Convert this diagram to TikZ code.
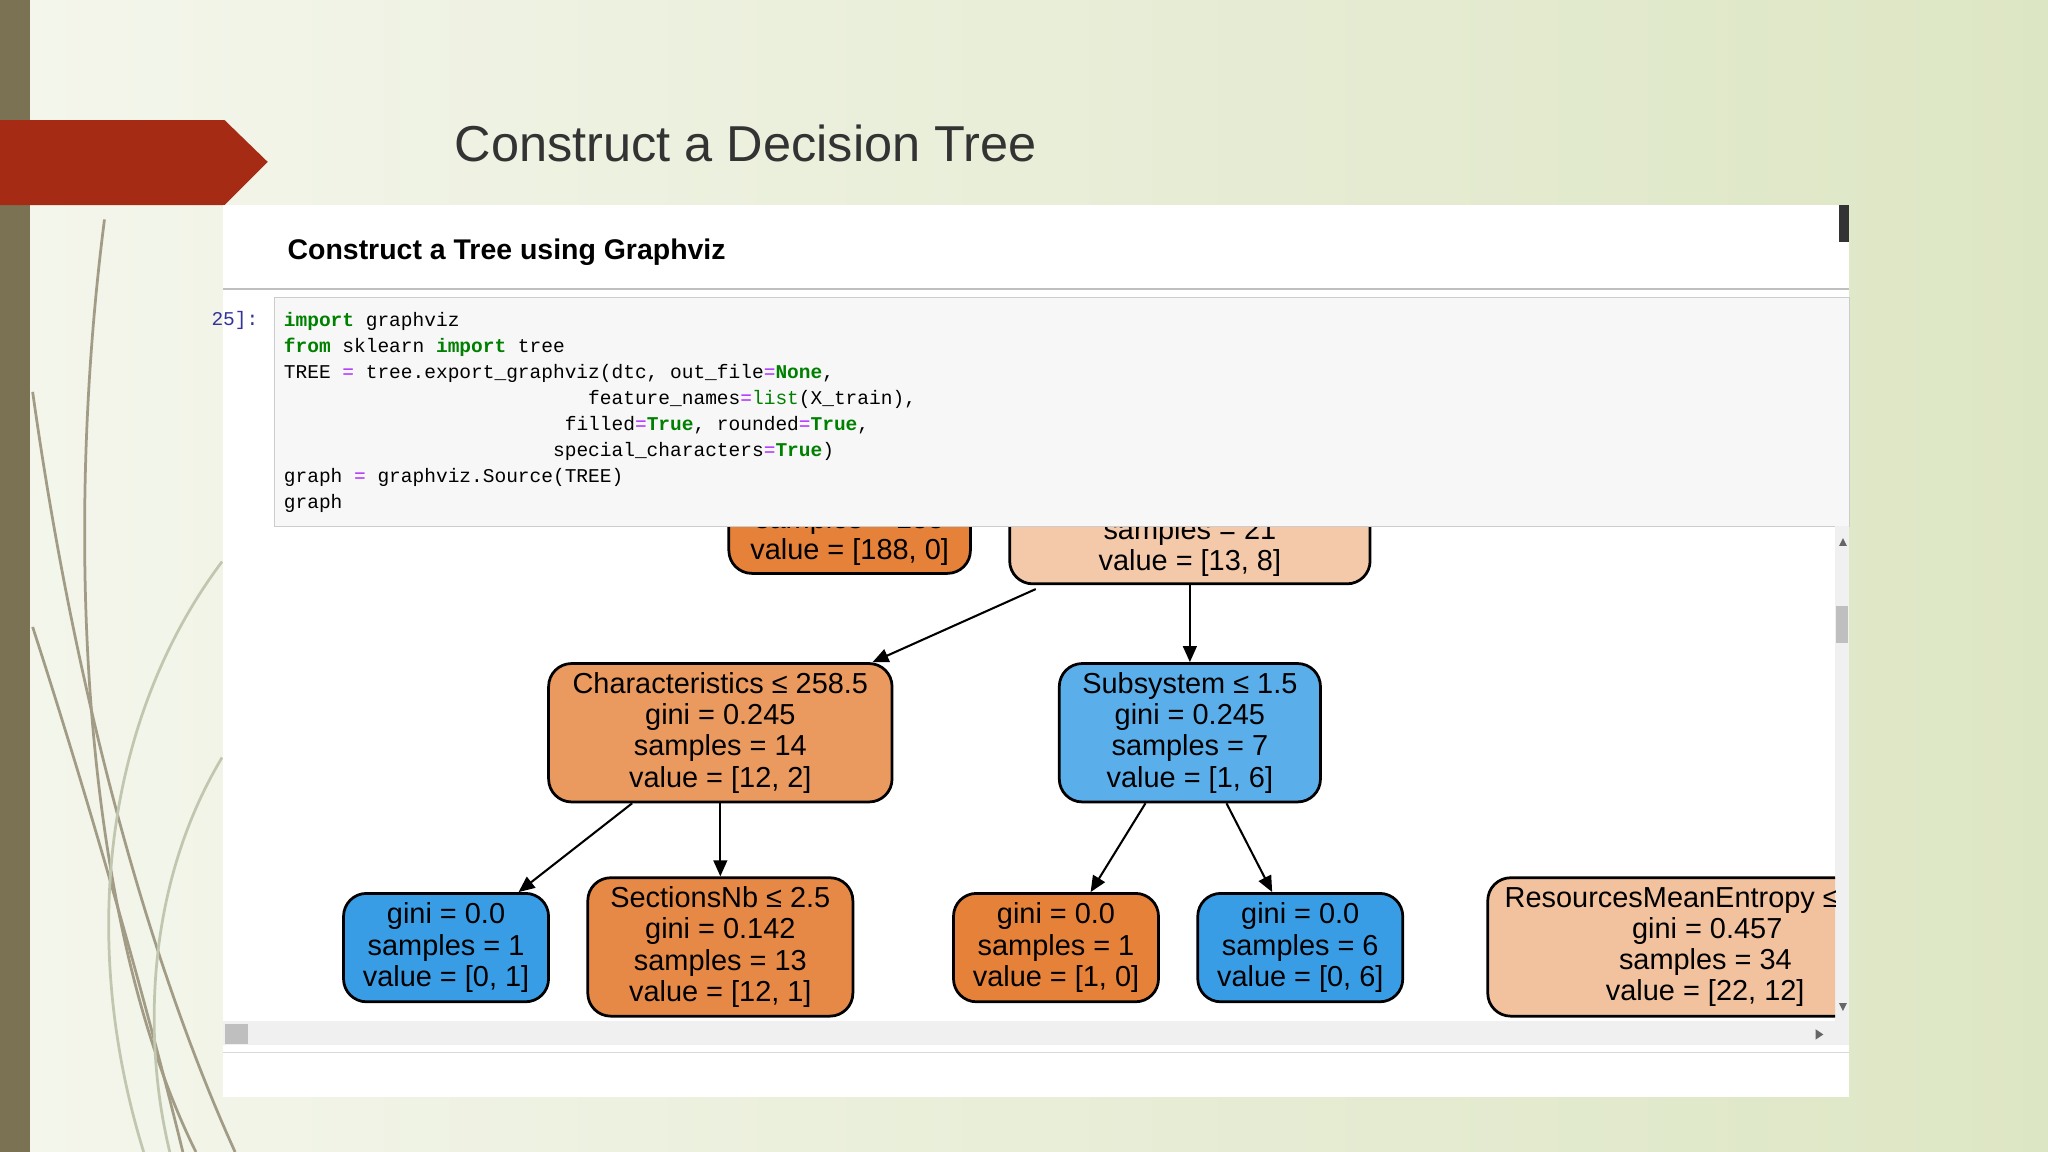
\documentclass[tikz,border=0pt]{standalone}
\usepackage{fontspec}
\setmainfont{Liberation Sans}
\setmonofont{Liberation Mono}
\usetikzlibrary{arrows.meta}
\definecolor{bgL}{HTML}{F4F6EC}
\definecolor{bgR}{HTML}{DDE6C4}
\definecolor{strip}{HTML}{7A7253}
\definecolor{banner}{HTML}{A52B14}
\definecolor{orA}{HTML}{E58139}
\definecolor{orB}{HTML}{F4C9AA}
\definecolor{orC}{HTML}{EA9A5F}
\definecolor{orF}{HTML}{E78946}
\definecolor{orI}{HTML}{F2C29F}
\definecolor{blA}{HTML}{399DE5}
\definecolor{blD}{HTML}{5AAEEA}
\definecolor{kw}{HTML}{008000}
\definecolor{op}{HTML}{AA22FF}
\definecolor{cellbg}{HTML}{F7F7F7}
\begin{document}
\begin{tikzpicture}[x=0.02cm,y=-0.02cm,
  tn/.style={draw=black,line width=1.2pt,rounded corners=10,align=center,inner sep=0,
    font=\fontsize{12.6}{13.6}\selectfont},
  edge/.style={-{Triangle[length=7pt,width=6pt]},line width=0.9pt}]
\useasboundingbox (0,0) rectangle (1568,882);
\shade[left color=bgL,right color=bgR] (0,0) rectangle (1568,882);
\fill[strip] (0,0) rectangle (23,882);
% grass
\begin{scope}[draw=strip!70,line width=1.2pt]
\draw (80,168) .. controls (50,400) and (60,700) .. (150,882);
\draw (25,300) .. controls (60,550) and (120,750) .. (180,882);
\draw (25,480) .. controls (80,650) and (120,800) .. (140,882);
\draw[draw=bgR!70!gray] (170,430) .. controls (80,550) and (60,720) .. (110,882);
\draw[draw=bgR!70!gray] (170,580) .. controls (110,680) and (110,800) .. (130,882);
\end{scope}
\fill[banner] (0,92) -- (172,92) -- (205,124) -- (172,157) -- (0,157) -- cycle;
\node[anchor=west,text=black!80,font=\fontsize{22}{26}\selectfont] (title) at (342,110) {Construct a Decision Tree};
% panel
\fill[white] (171,157) rectangle (1416,840);
\fill[black!80] (1408,157) rectangle (1416,185);
\node[anchor=west,font=\bfseries\fontsize{12.4}{14}\selectfont] (hdr) at (214,193) {Construct a Tree using Graphviz};
\draw[black!25,line width=1pt] (171,221) -- (1416,221);
\filldraw[fill=cellbg,draw=black!20] (210,228) rectangle (1416,403);
\node[anchor=east,text=blue!50!black!80,font=\ttfamily\fontsize{8.5}{11.3}\selectfont] (lbl) at (204,245) {25]:};
\node[anchor=north west,align=left,inner sep=0,font=\ttfamily\fontsize{8.5}{11.3}\selectfont] (code) at (217,239) {%
\textcolor{kw}{\textbf{import}} graphviz\\
\textcolor{kw}{\textbf{from}} sklearn \textcolor{kw}{\textbf{import}} tree\\
TREE \textcolor{op}{=} tree.export\_graphviz(dtc, out\_file\textcolor{op}{=}\textcolor{kw}{\textbf{None}},\\
\phantom{TREE = tree.export\_graphvi}feature\_names\textcolor{op}{=}\textcolor{kw}{list}(X\_train),\\
\phantom{TREE = tree.export\_graph}filled\textcolor{op}{=}\textcolor{kw}{\textbf{True}}, rounded\textcolor{op}{=}\textcolor{kw}{\textbf{True}},\\
\phantom{TREE = tree.export\_grap}special\_characters\textcolor{op}{=}\textcolor{kw}{\textbf{True}})\\
graph \textcolor{op}{=} graphviz.Source(TREE)\\
graph};
% scrollbars
\fill[black!6] (171,782) rectangle (1416,800);
\fill[black!25] (172,784) rectangle (190,799);
\fill[black!60] (1390,788) -- (1396,792) -- (1390,796) -- cycle;
\fill[black!6] (1405,403) rectangle (1416,782);
\fill[black!25] (1406,464) rectangle (1415,492);
\fill[black!60] (1408,418) -- (1411,412) -- (1414,418) -- cycle;
\fill[black!60] (1408,768) -- (1411,774) -- (1414,768) -- cycle;
\draw[black!15] (171,806) -- (1416,806);
% tree
\begin{scope}
\clip (171,404) rectangle (1405,782);
\node[tn,fill=orA,minimum width=3.7cm,minimum height=1.6cm] (A) at (650.5,399) {gini = 0.0\\samples = 188\\value = [188, 0]};
\node[tn,fill=orB,minimum width=5.52cm,minimum height=1.6cm] (B) at (911,407) {gini = 0.472\\samples = 21\\value = [13, 8]};
\node[tn,fill=orC,minimum width=5.26cm,minimum height=2.12cm] (C) at (551.5,561) {Characteristics ≤ 258.5\\gini = 0.245\\samples = 14\\value = [12, 2]};
\node[tn,fill=blD,minimum width=4.0cm,minimum height=2.12cm] (D) at (911,561) {Subsystem ≤ 1.5\\gini = 0.245\\samples = 7\\value = [1, 6]};
\node[tn,fill=blA,minimum width=3.14cm,minimum height=1.66cm] (E) at (341.5,725.5) {gini = 0.0\\samples = 1\\value = [0, 1]};
\node[tn,fill=orF,minimum width=4.06cm,minimum height=2.12cm] (F) at (551.5,725) {SectionsNb ≤ 2.5\\gini = 0.142\\samples = 13\\value = [12, 1]};
\node[tn,fill=orA,minimum width=3.14cm,minimum height=1.66cm] (G) at (808.5,725.5) {gini = 0.0\\samples = 1\\value = [1, 0]};
\node[tn,fill=blA,minimum width=3.14cm,minimum height=1.66cm] (H) at (995.5,725.5) {gini = 0.0\\samples = 6\\value = [0, 6]};
\node[tn,fill=orI,minimum height=2.12cm,align=left,anchor=west,inner xsep=0.26cm] (I) at (1138,725) {ResourcesMeanEntropy ≤ 7.0\\\hspace*{1.95cm}gini = 0.457\\\hspace*{1.75cm}samples = 34\\\hspace*{1.55cm}value = [22, 12]};
\coordinate (b1) at (793,451); \coordinate (c1) at (668,507);
\draw[edge] (b1) -- (c1);
\draw[edge] (B.south) -- (D.north);
\coordinate (c2) at (484,615); \coordinate (e1) at (397,683);
\draw[edge] (c2) -- (e1);
\draw[edge] (C.south) -- (F.north);
\coordinate (d1) at (877,615); \coordinate (g1) at (835,683);
\draw[edge] (d1) -- (g1);
\coordinate (d2) at (939,615); \coordinate (h1) at (974,683);
\draw[edge] (d2) -- (h1);
\end{scope}
\end{tikzpicture}
\end{document}
